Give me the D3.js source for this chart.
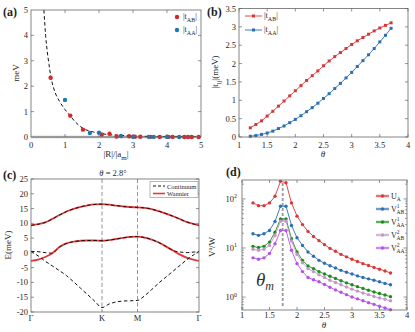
<!DOCTYPE html>
<html><head><meta charset="utf-8">
<script src="https://cdn.jsdelivr.net/npm/d3@7"></script>
<style>body{margin:0;background:#fff}svg{display:block}text{font-family:"Liberation Serif","DejaVu Serif",serif}</style>
</head><body>
<svg id="c" width="415" height="332"></svg>
<script>
// ---------- DATA ----------
// (a) hopping vs distance
const aRedX = [0.577,1.155,1.528,2.082,2.309,2.517,2.887,3.055,3.215,3.512,3.786,4.041,4.163,4.509,4.619,4.726,4.933];
const aRedY = [2.33,0.84,0.29,0.10,0.13,0.02,0.03,0.01,0.01,0.005,0.004,0.004,0.003,0.002,0.002,0.002,0.001];
const aBlueX = [1.0,1.732,2.0,2.646,3.0,3.464,3.606,4.0,4.359];
const aBlueY = [1.46,0.16,0.17,0.04,0.01,0.005,0.004,0.003,0.002];
const aFitX = [0.38,0.43,0.48,0.53,0.58,0.66,0.74,0.85,1.0,1.15,1.3,1.54,1.83,2.24,2.6,3.0,3.5,4.0,4.5,5.0];
const aFitY = [5.0,4.0,3.35,2.85,2.4,1.95,1.65,1.38,1.08,0.84,0.6,0.33,0.2,0.1,0.066,0.04,0.02,0.01,0.006,0.003];
const aXTicks = [0,1,2,3,4,5], aYTicks = [0,1,2,3,4,5];
// (b) hopping vs twist angle
const bTheta = [1.2,1.3,1.4,1.5,1.6,1.7,1.8,1.9,2.0,2.1,2.2,2.3,2.4,2.5,2.6,2.7,2.8,2.9,3.0,3.1,3.2,3.3,3.4,3.5,3.6,3.7];
const bTAB = [0.25,0.34,0.44,0.57,0.70,0.84,0.98,1.12,1.26,1.40,1.54,1.67,1.80,1.94,2.07,2.19,2.30,2.41,2.52,2.62,2.71,2.80,2.89,2.97,3.04,3.11];
const bTAA = [0.02,0.04,0.07,0.11,0.16,0.23,0.30,0.39,0.48,0.58,0.69,0.80,0.92,1.05,1.18,1.32,1.46,1.61,1.76,1.92,2.08,2.24,2.41,2.59,2.77,2.96];
const bXTicks = [1,1.5,2,2.5,3,3.5,4], bYTicks = [0,0.5,1,1.5,2,2.5,3,3.5];
// (c) band structure, k in units of |ΓK|
const cK = [0,0.1,0.2,0.3,0.4,0.5,0.6,0.7,0.8,0.9,1.0,1.1,1.2,1.3,1.4,1.5,1.6,1.7,1.8,1.9,2.0,2.1,2.2,2.3,2.366];
const cWan1 = [9.3,9.7,10.3,11.5,12.8,14.0,14.9,15.6,16.1,16.4,16.5,16.3,16.0,15.7,15.5,15.4,15.2,14.8,14.1,13.3,12.4,11.4,10.4,9.7,9.3];
const cWan2 = [-2.7,-2.3,-1.4,-0.1,2.0,3.2,3.8,4.1,4.2,4.2,4.1,4.3,4.7,5.1,5.4,5.5,5.2,4.5,3.5,2.2,0.8,-0.6,-1.7,-2.4,-2.7];
const cCon1 = [9.3,9.7,10.3,11.5,12.8,14.0,14.9,15.6,16.1,16.4,16.5,16.3,16.0,15.7,15.5,15.4,15.2,14.8,14.1,13.3,12.4,11.4,10.4,9.7,9.3];
const cCon2 = [0.5,0.4,0.1,-0.1,2.0,3.2,3.8,4.1,4.2,4.2,4.1,4.3,4.7,5.1,5.4,5.5,5.2,4.5,3.5,2.2,0.8,0.3,0.1,0.3,0.5];
const cCon3 = [0.5,-1.0,-2.8,-4.4,-6.0,-7.7,-9.8,-12.0,-14.2,-16.4,-18.5,-17.3,-16.6,-16.3,-16.2,-16.1,-14.5,-12.4,-10.2,-8.2,-6.2,-4.2,-2.2,-0.5,0.5];
const cKTicks = [0,1.0,1.5,2.366], cKLabels = ["Γ","K","M","Γ"];
const cYTicks = [-20,-15,-10,-5,0,5,10,15,20,25];
// (d) interaction parameters (log scale)
const dTheta = bTheta;
const dUA   = [83,73,73,83,113,228,214,83,44.6,30,21.8,17.2,14.1,11.7,9.8,8.6,7.4,6.6,5.9,5.3,4.8,4.4,4.0,3.7,3.4,3.1];
const dV1AB = [19.5,18.1,19.5,22.8,34.7,71,71,28.8,16.2,11.3,8.3,6.8,5.6,4.9,4.35,3.9,3.5,3.2,2.95,2.7,2.5,2.35,2.2,2.05,1.9,1.78];
const dV1AA = [10.8,10.2,10.8,13.2,21,39,39,15.5,8.3,5.6,4.3,3.8,3.3,2.95,2.65,2.4,2.15,1.95,1.78,1.63,1.5,1.38,1.27,1.18,1.1,1.02];
const dV2AB = [9.4,9.0,9.4,11.3,18,35,35,13.9,7.4,5.0,3.8,3.3,2.85,2.5,2.2,1.98,1.78,1.6,1.45,1.32,1.21,1.12,1.03,0.96,0.9,0.84];
const dV2AA = [6.3,5.9,6.3,7.7,12.2,22.8,22.8,9.0,4.8,3.3,2.5,2.25,2.05,1.8,1.58,1.4,1.25,1.12,1.0,0.92,0.84,0.77,0.71,0.65,0.6,0.55];
const dThetaM = 1.74;
const dXTicks = [1,1.5,2,2.5,3,3.5,4], dYTicks = [1,10,100];

// ---------- DRAW ----------
const svg = d3.select("#c");
const FR = "#666", TK = "#262626", FS = 8.5;

function frame(x0,y0,x1,y1){
  svg.append("rect").attr("x",x0).attr("y",y0).attr("width",x1-x0).attr("height",y1-y0)
    .attr("fill","none").attr("stroke",FR).attr("stroke-width",0.8);
}
function xTicks(x, vals, y0, y1, labels, ly, len=3){
  vals.forEach((v,i)=>{
    const px = x(v);
    svg.append("line").attr("x1",px).attr("x2",px).attr("y1",y1).attr("y2",y1-len).attr("stroke",FR).attr("stroke-width",0.7);
    svg.append("line").attr("x1",px).attr("x2",px).attr("y1",y0).attr("y2",y0+len).attr("stroke",FR).attr("stroke-width",0.7);
    if(labels) svg.append("text").attr("x",px).attr("y",ly).attr("text-anchor","middle").attr("font-size",FS).attr("fill",TK).text(labels[i]);
  });
}
function yTicks(y, vals, x0, x1, labels, lx, len=3){
  vals.forEach((v,i)=>{
    const py = y(v);
    svg.append("line").attr("x1",x0).attr("x2",x0+len).attr("y1",py).attr("y2",py).attr("stroke",FR).attr("stroke-width",0.7);
    svg.append("line").attr("x1",x1).attr("x2",x1-len).attr("y1",py).attr("y2",py).attr("stroke",FR).attr("stroke-width",0.7);
    if(labels) svg.append("text").attr("x",lx).attr("y",py+3).attr("text-anchor","end").attr("font-size",FS).attr("fill",TK).text(labels[i]);
  });
}
function clip(id,x0,y0,x1,y1){
  svg.append("clipPath").attr("id",id).append("rect").attr("x",x0).attr("y",y0).attr("width",x1-x0).attr("height",y1-y0);
}
function panelLabel(t,x,y){
  svg.append("text").attr("x",x).attr("y",y).attr("font-size",12).attr("font-weight","bold").attr("fill","#222").text(t);
}

// ===== (a) =====
{
  const x0=31,x1=201,y0=10,y1=137;
  const x = d3.scaleLinear().domain([0,5]).range([x0,x1]);
  const y = d3.scaleLinear().domain([0,5]).range([y1,y0]);
  clip("ca",x0,y0,x1,y1);
  svg.append("line").attr("x1",x0).attr("x2",x1).attr("y1",y(0)).attr("y2",y(0)).attr("stroke","#bbb").attr("stroke-width",2.5);
  const line = d3.line().x((d,i)=>x(aFitX[i])).y(d=>y(d)).curve(d3.curveMonotoneX);
  svg.append("path").attr("d",line(aFitY)).attr("fill","none").attr("stroke","#111").attr("stroke-width",1).attr("stroke-dasharray","3.5,2.5").attr("clip-path","url(#ca)");
  svg.append("g").selectAll("circle").data(aRedY).join("circle").attr("cx",(d,i)=>x(aRedX[i])).attr("cy",d=>y(d)).attr("r",2.2).attr("fill","#d62728");
  svg.append("g").selectAll("circle").data(aBlueY).join("circle").attr("cx",(d,i)=>x(aBlueX[i])).attr("cy",d=>y(d)).attr("r",2.2).attr("fill","#1f77b4");
  frame(x0,y0,x1,y1);
  xTicks(x,aXTicks.slice(1,-1),y0,y1,null,0);
  aXTicks.forEach(v=>svg.append("text").attr("x",x(v)).attr("y",148).attr("text-anchor","middle").attr("font-size",FS).attr("fill",TK).text(v));
  yTicks(y,aYTicks.slice(1,-1),x0,x1,null,0);
  aYTicks.forEach(v=>svg.append("text").attr("x",28).attr("y",y(v)+3).attr("text-anchor","end").attr("font-size",FS).attr("fill",TK).text(v));
  // legend
  svg.append("circle").attr("cx",177).attr("cy",17).attr("r",2.2).attr("fill","#d62728");
  svg.append("circle").attr("cx",177).attr("cy",30).attr("r",2.2).attr("fill","#1f77b4");
  const la = svg.append("text").attr("x",183).attr("y",19).attr("font-size",8).attr("fill",TK);
  la.append("tspan").text("|t"); la.append("tspan").attr("dy",2.5).attr("font-size",6).text("AB"); la.append("tspan").attr("dy",-2.5).text("|");
  const lb = svg.append("text").attr("x",183).attr("y",32).attr("font-size",8).attr("fill",TK);
  lb.append("tspan").text("|t"); lb.append("tspan").attr("dy",2.5).attr("font-size",6).text("AA"); lb.append("tspan").attr("dy",-2.5).text("|");
  // axis labels
  svg.append("text").attr("transform","translate(19,73) rotate(-90)").attr("text-anchor","middle").attr("font-size",9).attr("fill",TK).text("meV");
  const xl = svg.append("text").attr("x",116).attr("y",157).attr("text-anchor","middle").attr("font-size",9).attr("fill",TK);
  xl.append("tspan").text("|R|/|a"); xl.append("tspan").attr("dy",2.5).attr("font-size",7).text("m"); xl.append("tspan").attr("dy",-2.5).text("|");
  panelLabel("(a)",3,16);
}

// ===== (b) =====
{
  const x0=239,x1=408,y0=8.5,y1=137;
  const x = d3.scaleLinear().domain([1,4]).range([x0,x1]);
  const y = d3.scaleLinear().domain([0,3.5]).range([y1,y0]);
  const line = d3.line().x((d,i)=>x(bTheta[i])).y(d=>y(d));
  [[bTAB,"#d6383a"],[bTAA,"#2b6fb3"]].forEach(([s,c])=>{
    svg.append("path").attr("d",line(s)).attr("fill","none").attr("stroke",c).attr("stroke-width",0.9);
    svg.append("g").selectAll("rect").data(s).join("rect").attr("x",(d,i)=>x(bTheta[i])-1.5).attr("y",d=>y(d)-1.5).attr("width",3).attr("height",3).attr("fill",c);
  });
  frame(x0,y0,x1,y1);
  xTicks(x,bXTicks,y0,y1,bXTicks.map(String),148);
  yTicks(y,bYTicks,x0,x1,bYTicks.map(String),236);
  // legend
  [["AB","#d6383a",16],["AA","#2b6fb3",30]].forEach(([s,c,yy])=>{
    svg.append("line").attr("x1",245).attr("x2",262).attr("y1",yy).attr("y2",yy).attr("stroke",c).attr("stroke-width",0.9);
    svg.append("rect").attr("x",252).attr("y",yy-1.5).attr("width",3).attr("height",3).attr("fill",c);
    const t = svg.append("text").attr("x",264).attr("y",yy+2).attr("font-size",8).attr("fill",TK);
    t.append("tspan").text("|t"); t.append("tspan").attr("dy",2.5).attr("font-size",6).text(s); t.append("tspan").attr("dy",-2.5).text("|");
  });
  const yl = svg.append("text").attr("transform","translate(218,72) rotate(-90)").attr("text-anchor","middle").attr("font-size",9).attr("fill",TK);
  yl.append("tspan").text("|t"); yl.append("tspan").attr("dy",2.5).attr("font-size",6.5).text("ij"); yl.append("tspan").attr("dy",-2.5).text("|(meV)");
  svg.append("text").attr("x",323).attr("y",157).attr("text-anchor","middle").attr("font-size",9).attr("font-style","italic").attr("fill",TK).text("θ");
  panelLabel("(b)",207,16);
}

// ===== (c) =====
{
  const x0=31,x1=199,y0=179,y1=312;
  const x = d3.scaleLinear().domain([0,2.366]).range([x0,x1]);
  const y = d3.scaleLinear().domain([-20,25]).range([y1,y0]);
  clip("cc",x0,y0,x1,y1);
  [1.0,1.5].forEach(k=>svg.append("line").attr("x1",x(k)).attr("x2",x(k)).attr("y1",y0).attr("y2",y1).attr("stroke","#888").attr("stroke-width",0.9).attr("stroke-dasharray","4,2.5"));
  const line = d3.line().x((d,i)=>x(cK[i])).y(d=>y(d)).curve(d3.curveMonotoneX);
  [cWan1,cWan2].forEach(s=>svg.append("path").attr("d",line(s)).attr("fill","none").attr("stroke","#e8383a").attr("stroke-width",1.8).attr("clip-path","url(#cc)"));
  [cCon1,cCon2,cCon3].forEach(s=>svg.append("path").attr("d",line(s)).attr("fill","none").attr("stroke","#111").attr("stroke-width",1).attr("stroke-dasharray","3.5,2.5").attr("clip-path","url(#cc)"));
  frame(x0,y0,x1,y1);
  yTicks(y,cYTicks,x0,x1,cYTicks.map(String),28);
  cKTicks.forEach((k,i)=>svg.append("text").attr("x",x(k)).attr("y",321).attr("text-anchor","middle").attr("font-size",FS).attr("fill",TK).text(cKLabels[i]));
  svg.append("text").attr("transform","translate(11,245) rotate(-90)").attr("text-anchor","middle").attr("font-size",9).attr("fill",TK).text("E(meV)");
  const tt = svg.append("text").attr("x",113).attr("y",176).attr("text-anchor","middle").attr("font-size",8.5).attr("fill",TK);
  tt.append("tspan").attr("font-style","italic").text("θ"); tt.append("tspan").text(" = 2.8°");
  // legend
  svg.append("rect").attr("x",150).attr("y",181.5).attr("width",48).attr("height",16).attr("fill","#fff").attr("stroke","#888").attr("stroke-width",0.6);
  svg.append("line").attr("x1",153).attr("x2",165).attr("y1",186).attr("y2",186).attr("stroke","#111").attr("stroke-width",1).attr("stroke-dasharray","3,2");
  svg.append("line").attr("x1",153).attr("x2",165).attr("y1",193.5).attr("y2",193.5).attr("stroke","#e8383a").attr("stroke-width",1.6);
  svg.append("text").attr("x",167).attr("y",188.5).attr("font-size",6.5).attr("fill",TK).text("Continuum");
  svg.append("text").attr("x",167).attr("y",196).attr("font-size",6.5).attr("fill",TK).text("Wannier");
  panelLabel("(c)",3,179);
}

// ===== (d) =====
{
  const x0=242,x1=407,y0=180,y1=310;
  const x = d3.scaleLinear().domain([1,4]).range([x0,x1]);
  const y = d3.scaleLog().domain([0.545,243]).range([y1,y0]);
  svg.append("line").attr("x1",x(dThetaM)).attr("x2",x(dThetaM)).attr("y1",y0+3).attr("y2",y1-4).attr("stroke","#999").attr("stroke-width",1.8).attr("stroke-dasharray","3,2");
  const series = [[dUA,"#d9383a","U","A",""],[dV1AB,"#2c6fb3","V","AB","1"],[dV1AA,"#1c8c1c","V","AA","1"],[dV2AB,"#c596c8","V","AB","2"],[dV2AA,"#b553e8","V","AA","2"]];
  const line = d3.line().x((d,i)=>x(dTheta[i])).y(d=>y(d));
  series.forEach(([s,c])=>{
    svg.append("path").attr("d",line(s)).attr("fill","none").attr("stroke",c).attr("stroke-width",0.9);
    svg.append("g").selectAll("circle").data(s).join("circle").attr("cx",(d,i)=>x(dTheta[i])).attr("cy",d=>y(d)).attr("r",1.7).attr("fill",c);
  });
  frame(x0,y0,x1,y1);
  xTicks(x,dXTicks,y0,y1,dXTicks.map(String),318);
  // log ticks
  const minor = [];
  [0.1,1,10,100].forEach(dec=>{for(let m=2;m<=9;m++){const v=dec*m; if(v>0.545&&v<243) minor.push(v);}});
  yTicks(y,minor,x0,x1,null,0,1.8);
  yTicks(y,dYTicks,x0,x1,null,0,3.5);
  dYTicks.forEach((v,i)=>{
    const t = svg.append("text").attr("x",237).attr("y",y(v)+3).attr("text-anchor","end").attr("font-size",FS).attr("fill",TK);
    t.append("tspan").text("10"); t.append("tspan").attr("dy",-3.5).attr("font-size",6).text(String(i));
  });
  // legend
  series.forEach(([s,c,b,sub,sup],i)=>{
    const yy = 196 + i*13;
    svg.append("line").attr("x1",376).attr("x2",389).attr("y1",yy).attr("y2",yy).attr("stroke",c).attr("stroke-width",2.6).attr("stroke-opacity",0.45);
    svg.append("line").attr("x1",376).attr("x2",389).attr("y1",yy).attr("y2",yy).attr("stroke",c).attr("stroke-width",0.9);
    svg.append("circle").attr("cx",382.5).attr("cy",yy).attr("r",1.7).attr("fill",c);
    const t = svg.append("text").attr("x",391).attr("y",yy+2.5).attr("font-size",8).attr("fill",TK);
    t.append("tspan").text(b);
    if(sup){ t.append("tspan").attr("dy",-4).attr("font-size",5.5).text(sup); t.append("tspan").attr("dx",-3).attr("dy",6.5).attr("font-size",5.5).text(sub); }
    else { t.append("tspan").attr("dy",2.5).attr("font-size",5.5).text(sub); }
  });
  const th = svg.append("text").attr("x",256).attr("y",286).attr("font-size",19).attr("font-style","italic").attr("fill","#333");
  th.append("tspan").text("θ"); th.append("tspan").attr("dy",4).attr("font-size",12).text("m");
  const yl = svg.append("text").attr("transform","translate(215,247) rotate(-90)").attr("text-anchor","middle").attr("font-size",9).attr("fill",TK);
  yl.append("tspan").text("V"); yl.append("tspan").attr("dy",-3).attr("font-size",6).text("a"); yl.append("tspan").attr("dy",3).text("/W");
  svg.append("text").attr("x",324).attr("y",328).attr("text-anchor","middle").attr("font-size",9).attr("font-style","italic").attr("fill",TK).text("θ");
  panelLabel("(d)",226,176);
}
</script>
</body></html>
